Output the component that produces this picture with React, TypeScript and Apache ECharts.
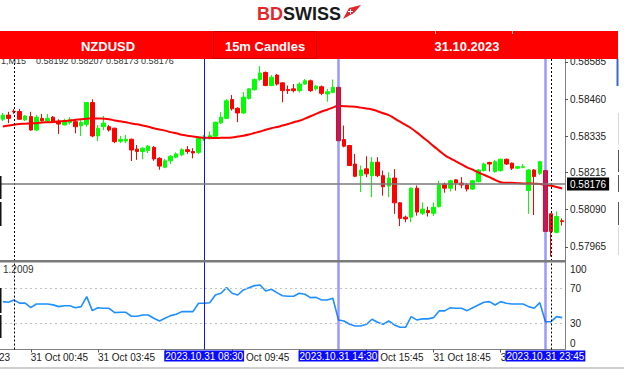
import React, { useEffect, useRef } from 'react';
import * as echarts from 'echarts';

// [open, high, low, close] per 15-minute bar, from 2023.10.30 23:30
const candles: [number, number, number, number][] = [
  [0.58393, 0.58414, 0.58387, 0.58407], [0.58407, 0.58418, 0.5838, 0.58396], [0.5842, 0.58427, 0.58411, 0.58418],
  [0.58419, 0.58428, 0.58391, 0.58393], [0.58391, 0.58407, 0.58387, 0.58404], [0.58402, 0.58418, 0.58355, 0.58357],
  [0.58357, 0.58407, 0.58354, 0.584], [0.58396, 0.58411, 0.58385, 0.58388], [0.58387, 0.58411, 0.58384, 0.58396],
  [0.584, 0.58404, 0.58382, 0.58385], [0.58385, 0.58393, 0.58344, 0.58377], [0.58374, 0.58395, 0.58373, 0.58387],
  [0.58382, 0.584, 0.58376, 0.58391], [0.58385, 0.58393, 0.58346, 0.58368], [0.58371, 0.58391, 0.58337, 0.58382],
  [0.58376, 0.58451, 0.58368, 0.58449], [0.58449, 0.5846, 0.58333, 0.58337], [0.58337, 0.58374, 0.5832, 0.58363],
  [0.58368, 0.58404, 0.58357, 0.5838], [0.58368, 0.58374, 0.58352, 0.58357], [0.58363, 0.58365, 0.58313, 0.58318],
  [0.58319, 0.58337, 0.58313, 0.58326], [0.5832, 0.5834, 0.58313, 0.58326], [0.58326, 0.58328, 0.58253, 0.5829],
  [0.58293, 0.58307, 0.58257, 0.58285], [0.58285, 0.58299, 0.58259, 0.58296], [0.58288, 0.58307, 0.5828, 0.58303],
  [0.58299, 0.58303, 0.58254, 0.5826], [0.58262, 0.58266, 0.58224, 0.58236], [0.58232, 0.5826, 0.58229, 0.58254],
  [0.58254, 0.58273, 0.58243, 0.58269], [0.58266, 0.58282, 0.58262, 0.58277], [0.58274, 0.58296, 0.58269, 0.58291],
  [0.58291, 0.58303, 0.58277, 0.58285], [0.58285, 0.58296, 0.58262, 0.5828], [0.58282, 0.58336, 0.58277, 0.58329],
  [0.58327, 0.5834, 0.5832, 0.58333], [0.58329, 0.58352, 0.58325, 0.58338], [0.58336, 0.58385, 0.58333, 0.58383],
  [0.58381, 0.58417, 0.58377, 0.584], [0.58396, 0.58461, 0.58394, 0.58455], [0.58459, 0.58474, 0.58422, 0.58428],
  [0.5843, 0.58433, 0.58383, 0.58414], [0.58414, 0.58484, 0.58411, 0.58467], [0.58463, 0.58497, 0.58459, 0.58495],
  [0.58492, 0.5853, 0.58489, 0.58526], [0.58526, 0.58571, 0.58522, 0.58548], [0.5855, 0.58553, 0.58504, 0.58506],
  [0.58506, 0.58541, 0.58504, 0.58534], [0.58541, 0.58545, 0.58506, 0.58511], [0.58515, 0.58517, 0.5845, 0.58489],
  [0.58493, 0.58506, 0.58478, 0.58489], [0.58495, 0.58511, 0.58483, 0.58489], [0.58489, 0.58517, 0.58483, 0.58511],
  [0.58511, 0.58528, 0.58508, 0.58522], [0.58522, 0.58526, 0.58485, 0.58489], [0.58495, 0.58508, 0.58489, 0.58504],
  [0.58502, 0.58506, 0.58474, 0.5848], [0.58478, 0.58495, 0.58452, 0.58485], [0.58483, 0.58526, 0.5848, 0.585],
  [0.585, 0.58502, 0.5832, 0.58321], [0.58325, 0.58372, 0.58299, 0.58303], [0.58305, 0.58307, 0.58236, 0.58238],
  [0.58243, 0.58277, 0.58199, 0.58202], [0.58204, 0.58238, 0.58149, 0.58223], [0.58227, 0.58269, 0.58199, 0.5821],
  [0.58204, 0.58266, 0.58132, 0.58249], [0.58249, 0.58266, 0.58199, 0.58204], [0.58204, 0.58221, 0.58137, 0.58167],
  [0.58169, 0.58215, 0.58132, 0.58196], [0.58196, 0.58226, 0.58076, 0.58113], [0.58113, 0.58115, 0.58035, 0.58061],
  [0.58065, 0.5807, 0.58048, 0.58059], [0.58065, 0.58165, 0.58048, 0.58162], [0.58162, 0.58171, 0.5807, 0.58082],
  [0.58078, 0.58114, 0.58072, 0.58092], [0.58087, 0.581, 0.58067, 0.5808], [0.58078, 0.58114, 0.58069, 0.58098],
  [0.581, 0.58187, 0.58098, 0.58173], [0.58176, 0.58181, 0.58147, 0.58162], [0.58162, 0.5819, 0.58151, 0.58187],
  [0.5819, 0.58192, 0.58154, 0.58179], [0.58179, 0.58199, 0.58162, 0.58173], [0.58173, 0.58179, 0.58151, 0.58159],
  [0.58159, 0.5819, 0.58156, 0.58187], [0.58184, 0.58226, 0.58181, 0.58223], [0.58221, 0.58248, 0.58218, 0.58243],
  [0.58248, 0.58251, 0.58218, 0.58243], [0.58218, 0.58257, 0.58214, 0.58251], [0.58221, 0.58261, 0.58218, 0.58259],
  [0.58259, 0.58261, 0.5824, 0.58243], [0.58246, 0.58248, 0.58223, 0.58229], [0.58229, 0.58237, 0.58226, 0.58234],
  [0.58232, 0.58243, 0.58229, 0.58234], [0.58154, 0.58226, 0.58076, 0.58223], [0.58223, 0.58226, 0.58072, 0.58201],
  [0.58212, 0.58254, 0.58206, 0.58251], [0.58221, 0.58223, 0.58016, 0.58017], [0.58076, 0.58078, 0.57933, 0.58017],
  [0.58014, 0.58084, 0.58011, 0.58067], [0.58053, 0.58061, 0.58037, 0.5805],
];

const maValues = [
  0.58369, 0.58372, 0.58375, 0.58377, 0.58378, 0.58379, 0.5838, 0.58382, 0.58383, 0.58384,
  0.58386, 0.58387, 0.58389, 0.58391, 0.58393, 0.58395, 0.58396, 0.58396, 0.58395, 0.58393,
  0.58389, 0.58386, 0.58383, 0.58379, 0.58376, 0.58372, 0.58368, 0.58363, 0.58359, 0.58355,
  0.5835, 0.58346, 0.58341, 0.58338, 0.58335, 0.58333, 0.58331, 0.58331, 0.5833, 0.58331,
  0.58331, 0.58332, 0.58335, 0.58338, 0.58342, 0.58347, 0.58352, 0.58358, 0.58363, 0.58367,
  0.58372, 0.58377, 0.58383, 0.58388, 0.58395, 0.58403, 0.58411, 0.58419, 0.58425, 0.58432,
  0.58438, 0.58437, 0.58436, 0.58435, 0.58432, 0.58429, 0.58426, 0.5842, 0.58413, 0.58407,
  0.58396, 0.58385, 0.58374, 0.58363, 0.58349, 0.58334, 0.58319, 0.58303, 0.58288, 0.58273,
  0.58262, 0.58252, 0.58242, 0.58232, 0.58224, 0.58215, 0.58207, 0.58199, 0.5819, 0.58182,
  0.5818, 0.5818, 0.58179, 0.58178, 0.58178, 0.58177, 0.58176, 0.58173, 0.5817, 0.58166,
  0.58161,
];

const rsiValues = [
  54.7, 54, 56.6, 53, 53, 47.8, 52, 52, 52, 51,
  49, 50, 50, 47.8, 49, 60.4, 44.4, 47.8, 47.1, 47.1,
  42.1, 42.5, 42.5, 38, 38, 39.5, 39.5, 35.7, 32.6, 35.7,
  38.7, 40.3, 43.3, 43.3, 43.3, 52.9, 52.9, 53.5, 62.3, 64.3,
  70.7, 64.3, 62.3, 68.1, 70.7, 73, 73.8, 66.9, 68.9, 65,
  61.5, 60.9, 60.9, 64.3, 63.1, 59.3, 59.6, 56.6, 56.6, 58.6,
  33.8, 32.6, 28.8, 26.9, 26.9, 28.8, 34.6, 31.1, 28.8, 32.6,
  28.1, 25.4, 25.4, 37.6, 33.8, 35, 35, 36.4, 44.1, 44.1,
  47.8, 47.1, 47.1, 44.4, 47.8, 50.9, 54, 54.7, 50.9, 54.7,
  52.9, 52, 52, 52, 49, 47.1, 53.5, 31.8, 31.8, 37.6,
  36.4,
];

const priceTicks = [0.57965, 0.5809, 0.58215, 0.58335, 0.5846, 0.58585];
const rsiLevels = [30, 70];
const rsiEdgeLabels = ['100', '0'];
// time-axis ticks every 3 hours; labels fully hidden by the blue marker boxes are omitted
const tickTimes = [
  '2023.10.31 00:45', '2023.10.31 03:45', '2023.10.31 06:45', '2023.10.31 09:45',
  '2023.10.31 12:45', '2023.10.31 15:45', '2023.10.31 18:45', '2023.10.31 21:45',
];
const labelTimes = [
  '2023.10.31 00:45', '2023.10.31 03:45', '2023.10.31 09:45',
  '2023.10.31 15:45', '2023.10.31 18:45', '2023.10.31 21:45',
];
const periodSeparators = ['2023.10.31 00:00', '2023.11.01 00:00'];
const lineMarkers = ['2023.10.31 08:30'];
const selectedMarkers = ['2023.10.31 14:30', '2023.10.31 23:45'];
const currentPrice = 0.58176;
const infoLine = '1,M15    0.58192 0.58207 0.58173 0.58176';
const rsiInfo = '1.2009';
const headerCells = ['NZDUSD', '15m Candles', '31.10.2023'];

function buildCategories(n: number): string[] {
  const start = Date.UTC(2023, 9, 30, 23, 30);
  const p = (x: number) => String(x).padStart(2, '0');
  const out: string[] = [];
  for (let i = 0; i < n; i++) {
    const d = new Date(start + i * 15 * 60000);
    out.push(`${d.getUTCFullYear()}.${p(d.getUTCMonth() + 1)}.${p(d.getUTCDate())} ${p(d.getUTCHours())}:${p(d.getUTCMinutes())}`);
  }
  return out;
}

const FONT = '"Liberation Sans", Arial, sans-serif';

export default function App() {
  const ref = useRef<HTMLDivElement>(null);
  useEffect(() => {
    if (!ref.current) return;
    const chart = echarts.init(ref.current, undefined, { renderer: 'svg' });
    const cats = buildCategories(candles.length);
    const gridLeft = -2;
    const gridRight = 59;

    const markerLabel = (t: string) => ({
      show: true, position: 'start', formatter: t, backgroundColor: '#0a0aff', color: '#fff',
      padding: [1, 1, 0, 1], fontSize: 10, fontFamily: FONT, distance: 1,
    });

    const vLines = (withLabels: boolean) => [
      ...periodSeparators.map((t) => ({
        xAxis: t,
        lineStyle: { color: '#000', type: [2, 2], width: 1 },
        label: { show: false },
      })),
      ...lineMarkers.map((t) => ({
        xAxis: t,
        lineStyle: { color: '#1010ff', type: 'solid', width: 1 },
        label: withLabels ? markerLabel(t) : { show: false },
      })),
      ...selectedMarkers.map((t) => ({
        xAxis: t,
        lineStyle: { color: 'rgba(70,70,255,0.55)', type: 'solid', width: 2.5 },
        label: withLabels ? markerLabel(t) : { show: false },
      })),
    ];

    const option: any = {
      animation: false,
      backgroundColor: '#fff',
      textStyle: { fontFamily: FONT },
      grid: [
        { left: gridLeft, right: gridRight, top: 59, height: 202 },
        { left: gridLeft, right: gridRight, top: 262, height: 87.5 },
      ],
      xAxis: [
        {
          type: 'category', data: cats, gridIndex: 0, boundaryGap: true,
          axisLine: { show: false }, axisTick: { show: false }, axisLabel: { show: false }, splitLine: { show: false },
        },
        {
          type: 'category', data: cats, gridIndex: 1, boundaryGap: true,
          axisLine: { show: true, lineStyle: { color: '#808080', width: 1 } },
          axisTick: { show: true, alignWithLabel: true, length: 3, interval: (i: number, v: string) => tickTimes.includes(v), lineStyle: { color: '#555' } },
          axisLabel: {
            show: true, interval: (i: number, v: string) => labelTimes.includes(v), align: 'left', margin: 3,
            fontSize: 10, color: '#222', fontFamily: FONT,
            formatter: (v: string) => `${v.slice(8, 10)} Oct ${v.slice(11)}`,
          },
          splitLine: { show: false },
        },
      ],
      yAxis: [
        {
          type: 'value', gridIndex: 0, position: 'right', min: 0.57918, max: 0.58595, scale: true,
          axisLine: { show: true, lineStyle: { color: '#808080' } },
          axisTick: { show: true, length: 3, customValues: priceTicks, lineStyle: { color: '#555' } },
          axisLabel: { show: true, customValues: priceTicks, formatter: (v: number) => v.toFixed(5), fontSize: 10, color: '#222', margin: 5, fontFamily: FONT },
          splitLine: { show: false },
        },
        {
          type: 'value', gridIndex: 1, position: 'right', min: 0, max: 100,
          axisLine: { show: true, lineStyle: { color: '#808080' } },
          axisTick: { show: false },
          axisLabel: { show: true, customValues: rsiLevels, fontSize: 10, color: '#222', margin: 5, fontFamily: FONT },
          splitLine: { show: false },
        },
      ],
      series: [
        {
          type: 'candlestick', xAxisIndex: 0, yAxisIndex: 0, barWidth: 4,
          data: candles.map(([o, h, l, c]) => [o, c, l, h]),
          itemStyle: { color: '#00ff00', color0: '#ff0000', borderColor: '#00ff00', borderColor0: '#ff0000', borderWidth: 1 },
          markLine: {
            silent: true, symbol: ['none', 'none'], animation: false, precision: 5,
            label: { show: false },
            data: vLines(false),
          },
        },
        {
          type: 'line', xAxisIndex: 0, yAxisIndex: 0, data: maValues, showSymbol: false, smooth: true,
          lineStyle: { color: '#ff0000', width: 2 }, z: 3,
          markLine: {
            silent: true, symbol: ['none', 'none'], animation: false, precision: 5,
            data: [
              {
                yAxis: currentPrice,
                lineStyle: { color: '#7a7a7a', type: 'solid', width: 1.5 },
                label: { show: true, position: 'end', formatter: currentPrice.toFixed(5), backgroundColor: '#000', color: '#fff', padding: [2, 3, 1, 3], fontSize: 10, fontFamily: FONT, distance: 2 },
              },
            ],
          },
        },
        {
          type: 'line', xAxisIndex: 1, yAxisIndex: 1, data: rsiValues, showSymbol: false,
          lineStyle: { color: '#1e90ff', width: 1.6 },
          markLine: {
            silent: true, symbol: ['none', 'none'], animation: false,
            label: { show: false },
            data: [
              ...rsiLevels.map((v) => ({ yAxis: v, lineStyle: { color: '#c4c4c4', type: [2, 3], width: 1 }, label: { show: false } })),
              ...vLines(true),
            ],
          },
        },
      ],
      graphic: [
        { type: 'text', x: 1, y: 60.5, z: 50, style: { text: infoLine, fill: '#333', font: `9px ${FONT}`, verticalAlign: 'middle' } },
        { type: 'text', x: 3, y: 269, z: 50, style: { text: rsiInfo, fill: '#333', font: `10px ${FONT}`, verticalAlign: 'middle' } },
        { type: 'text', x: 570, y: 269, z: 50, style: { text: rsiEdgeLabels[0], fill: '#222', font: `10px ${FONT}`, verticalAlign: 'middle' } },
        { type: 'text', x: 570, y: 343, z: 50, style: { text: rsiEdgeLabels[1], fill: '#222', font: `10px ${FONT}`, verticalAlign: 'middle' } },
        { type: 'text', x: -1, y: 357, z: 50, style: { text: '23', fill: '#222', font: `10px ${FONT}`, verticalAlign: 'middle' } },
        { type: 'rect', z: 40, shape: { x: 0, y: 260, width: 566, height: 2.5 }, style: { fill: '#7a7a7a' } },
        { type: 'rect', z: 40, shape: { x: 0, y: 367.5, width: 624, height: 1 }, style: { fill: '#a0a0a0' } },
        { type: 'rect', z: 40, shape: { x: 0, y: 176, width: 1.5, height: 23 }, style: { fill: '#111' } },
        { type: 'rect', z: 40, shape: { x: 0, y: 202, width: 1.5, height: 24 }, style: { fill: '#111' } },
        { type: 'rect', z: 40, shape: { x: 0, y: 288, width: 1.5, height: 25 }, style: { fill: '#111' } },
        { type: 'rect', z: 40, shape: { x: 0, y: 315, width: 1.5, height: 23 }, style: { fill: '#111' } },
        { type: 'rect', z: 40, shape: { x: 616.5, y: 59, width: 2, height: 27 }, style: { fill: '#3a66d6' } },
        { type: 'rect', z: 40, shape: { x: 618, y: 113, width: 1, height: 32 }, style: { fill: '#d8d8d8' } },
        { type: 'rect', z: 40, shape: { x: 618, y: 150, width: 1, height: 22 }, style: { fill: '#555' } },
        { type: 'rect', z: 40, shape: { x: 618, y: 175, width: 1, height: 17 }, style: { fill: '#555' } },
        { type: 'rect', z: 40, shape: { x: 618, y: 202, width: 1, height: 23 }, style: { fill: '#555' } },
        { type: 'rect', z: 40, shape: { x: 618, y: 228, width: 1, height: 27 }, style: { fill: '#d8d8d8' } },
        { type: 'rect', z: 100, shape: { x: 0, y: 31, width: 618, height: 28 }, style: { fill: '#ff0000' } },
        { type: 'rect', z: 101, shape: { x: 213.5, y: 31.5, width: 103, height: 27 }, style: { fill: 'none', stroke: '#c40000', lineWidth: 1 } },
        { type: 'line', z: 101, shape: { x1: 435.5, y1: 31, x2: 435.5, y2: 34 }, style: { stroke: '#ffc0c0', lineWidth: 1 } },
        { type: 'line', z: 101, shape: { x1: 512.5, y1: 31, x2: 512.5, y2: 34 }, style: { stroke: '#ffc0c0', lineWidth: 1 } },
        { type: 'text', z: 102, x: 108, y: 46, style: { text: headerCells[0], fill: '#fff', font: `bold 13px ${FONT}`, align: 'center', verticalAlign: 'middle' } },
        { type: 'text', z: 102, x: 265, y: 46, style: { text: headerCells[1], fill: '#fff', font: `bold 13px ${FONT}`, align: 'center', verticalAlign: 'middle' } },
        { type: 'text', z: 102, x: 467, y: 46, style: { text: headerCells[2], fill: '#fff', font: `bold 13px ${FONT}`, align: 'center', verticalAlign: 'middle' } },
        {
          type: 'text', z: 102, x: 257, y: 14,
          style: {
            text: '{a|BD}{b|SWISS}', verticalAlign: 'middle',
            rich: {
              a: { fill: '#e3262b', font: `bold 18px ${FONT}` },
              b: { fill: '#1a1a1a', font: `bold 18px ${FONT}` },
            },
          },
        },
        { type: 'polygon', z: 102, shape: { points: [[343, 19], [349, 8], [361, 5], [354, 13]] }, style: { fill: '#e3262b' } },
        { type: 'line', z: 103, shape: { x1: 350.5, y1: 9, x2: 350.5, y2: 14 }, style: { stroke: '#fff', lineWidth: 1 } },
        { type: 'line', z: 103, shape: { x1: 348, y1: 11.5, x2: 353, y2: 11.5 }, style: { stroke: '#fff', lineWidth: 1 } },
      ],
    };
    chart.setOption(option);
    return () => chart.dispose();
  }, []);
  return <div ref={ref} style={{ position: 'fixed', left: 0, top: 0, width: 624, height: 373, background: '#fff' }} />;
}
